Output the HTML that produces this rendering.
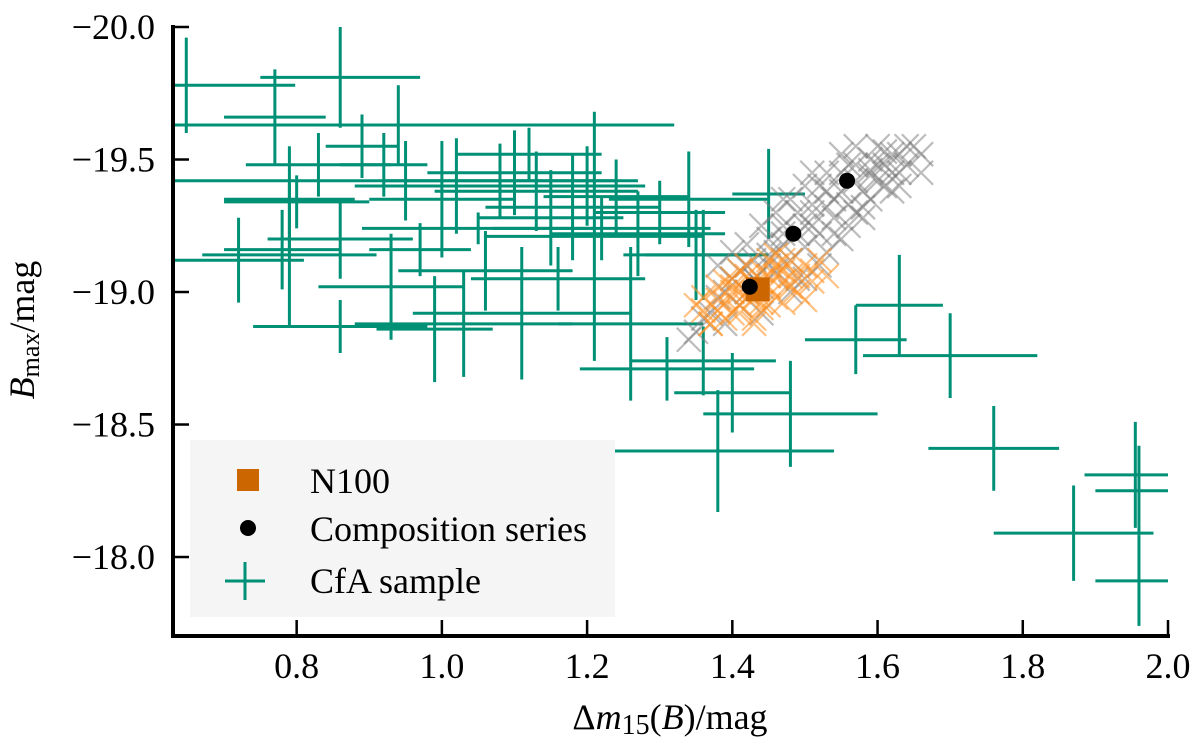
<!DOCTYPE html>
<html><head><meta charset="utf-8"><style>
body{margin:0;background:#fff}
svg{display:block}
text{font-family:"Liberation Serif",serif;fill:#000}
</style></head><body>
<svg id="chart" width="1200" height="749" viewBox="0 0 1200 749" xmlns="http://www.w3.org/2000/svg">
<g id="cfa"></g>
<g id="gray"></g>
<g id="orange"></g>
<g id="main"></g>
<g id="axes"></g>
<g id="legend">
  <rect x="190" y="440" width="425" height="177" fill="#f5f5f5"/>
  <rect x="237" y="469" width="22" height="22" fill="#cc6600"/>
  <text x="310" y="493" font-size="36">N100</text>
  <circle cx="248" cy="528" r="8" fill="#000"/>
  <text x="310" y="541" font-size="36">Composition series</text>
  <path d="M225 581H265M245 562V600" stroke="#009076" stroke-width="3"/>
  <text x="310" y="593" font-size="36">CfA sample</text>
</g>
<text x="670" y="729" font-size="36" text-anchor="middle">Δ<tspan font-style="italic">m</tspan><tspan font-size="28" dy="5">15</tspan><tspan dy="-5">(</tspan><tspan font-style="italic">B</tspan>)/mag</text>
<text transform="translate(34,330) rotate(-90)" font-size="36" text-anchor="middle"><tspan font-style="italic">B</tspan><tspan font-size="26" dy="5">max</tspan><tspan dy="-5">/mag</tspan></text>
</svg>
<script>
const cfaX = [0.648,0.77,0.86,0.83,0.89,0.92,0.94,0.95,0.80,0.79,0.86,0.79,0.97,1.05,1.00,1.02,1.08,1.10,1.13,1.15,1.18,1.20,1.22,1.24,1.27,1.30,1.34,1.35,1.45,1.21,1.26,1.11,1.03,0.99,0.86,0.78,1.36,1.31,1.40,1.36,1.48,1.38,1.63,1.57,1.70,1.76,1.955,1.96,1.87,1.96,1.06,1.16,0.93,0.72,1.12];
const cfaY = [-19.78,-19.66,-19.81,-19.48,-19.55,-19.48,-19.63,-19.42,-19.34,-19.14,-19.20,-19.35,-19.16,-19.24,-19.35,-19.40,-19.42,-19.45,-19.38,-19.28,-19.32,-19.40,-19.24,-19.36,-19.22,-19.30,-19.35,-19.14,-19.37,-19.21,-18.88,-18.92,-18.88,-18.86,-18.87,-19.16,-19.14,-18.71,-18.62,-18.74,-18.54,-18.40,-18.95,-18.82,-18.76,-18.41,-18.31,-18.25,-18.09,-17.91,-19.08,-19.05,-19.02,-19.12,-19.52];
const cfaXerr = [0.15,0.07,0.11,0.10,0.05,0.06,0.38,0.32,0.10,0.12,0.10,0.09,0.07,0.16,0.10,0.14,0.16,0.12,0.14,0.10,0.12,0.08,0.15,0.10,0.12,0.09,0.11,0.10,0.05,0.15,0.10,0.15,0.15,0.08,0.12,0.08,0.08,0.12,0.08,0.10,0.12,0.16,0.06,0.07,0.12,0.09,0.07,0.06,0.11,0.06,0.12,0.12,0.10,0.09,0.10];
const cfaYerr = [0.18,0.18,0.19,0.12,0.12,0.12,0.15,0.15,0.10,0.27,0.15,0.20,0.10,0.06,0.22,0.18,0.14,0.16,0.15,0.18,0.20,0.15,0.12,0.14,0.16,0.12,0.18,0.17,0.17,0.47,0.29,0.25,0.20,0.20,0.10,0.15,0.17,0.12,0.15,0.13,0.20,0.23,0.19,0.13,0.16,0.16,0.20,0.17,0.18,0.17,0.15,0.12,0.20,0.16,0.10];
const grayX = [1.36,1.38,1.40,1.41,1.43,1.44,1.45,1.46,1.47,1.48,1.49,1.50,1.51,1.52,1.53,1.54,1.55,1.56,1.57,1.58,1.59,1.60,1.61,1.62,1.63,1.64,1.42,1.46,1.50,1.53,1.57,1.60,1.48,1.52,1.55,1.44,1.39,1.58,1.62,1.51,1.47,1.54,1.43,1.59,1.65,
  1.35,1.37,1.39,1.41,1.43,1.45,1.47,1.49,1.51,1.53,1.55,1.57,1.59,1.61,1.63,1.40,1.44,1.48,1.52,1.56,1.60,1.64,1.42,1.46,1.50,1.54,1.58,1.62,1.66,1.45,1.49,1.53,1.57,1.61,1.38,1.42,1.47,1.51,1.55,1.59,1.63,1.66,1.34,1.50,1.56];
const grayY = [-18.90,-18.98,-19.05,-18.95,-19.12,-19.02,-19.20,-19.08,-19.25,-19.12,-19.30,-19.17,-19.33,-19.22,-19.38,-19.28,-19.45,-19.33,-19.48,-19.38,-19.50,-19.42,-19.53,-19.45,-19.52,-19.48,-19.18,-19.30,-19.40,-19.45,-19.55,-19.55,-19.00,-19.10,-19.20,-18.92,-18.88,-19.28,-19.38,-19.25,-19.18,-19.35,-19.05,-19.44,-19.55,
  -18.85,-18.92,-19.00,-19.08,-19.05,-19.14,-19.22,-19.22,-19.30,-19.32,-19.38,-19.42,-19.46,-19.48,-19.45,-19.15,-19.25,-19.35,-19.40,-19.48,-19.48,-19.55,-19.10,-19.15,-19.25,-19.22,-19.32,-19.52,-19.52,-19.10,-19.05,-19.15,-19.30,-19.40,-19.10,-19.00,-19.35,-19.45,-19.52,-19.35,-19.40,-19.45,-18.82,-19.05,-19.25];
const orangeX = [1.36,1.38,1.39,1.40,1.41,1.42,1.43,1.44,1.45,1.46,1.47,1.48,1.49,1.50,1.38,1.40,1.42,1.44,1.46,1.48,1.41,1.43,1.45,1.47,1.37,1.51,1.44,1.42,1.46,1.40,
  1.35,1.37,1.39,1.41,1.43,1.45,1.47,1.49,1.51,1.53,1.36,1.40,1.44,1.48,1.52,1.38,1.42,1.46,1.50,1.43,1.45,1.39,1.47,1.41];
const orangeY = [-18.93,-18.97,-18.90,-19.02,-18.95,-19.06,-18.98,-19.08,-19.02,-19.10,-19.04,-19.12,-19.06,-19.10,-19.02,-18.92,-19.00,-18.94,-18.98,-19.02,-19.08,-18.90,-19.12,-18.96,-18.88,-19.04,-19.04,-18.98,-19.06,-19.00,
  -18.95,-18.88,-18.96,-19.00,-19.03,-19.06,-19.08,-19.00,-19.08,-19.06,-18.98,-19.05,-18.96,-19.06,-19.12,-18.93,-19.10,-19.14,-18.97,-18.88,-18.95,-19.04,-19.12,-18.92];
const compX = [1.424,1.484,1.558];
const compY = [-19.02,-19.22,-19.42];
const n100X = [1.435];
const n100Y = [-19.01];
const xTicks = [0.8,1.0,1.2,1.4,1.6,1.8,2.0];
const xTickLabels = ["0.8","1.0","1.2","1.4","1.6","1.8","2.0"];
const yTicks = [-20.0,-19.5,-19.0,-18.5,-18.0];
const yTickLabels = ["\u221220.0","\u221219.5","\u221219.0","\u221218.5","\u221218.0"];

const NS="http://www.w3.org/2000/svg";
const X0=173,X1=1168,Y0=27,Y1=636;
const xMin=0.6297,xMax=2.0,yTop=-20.0,yBot=-17.702;
const sx=v=>X0+(v-xMin)/(xMax-xMin)*(X1-X0);
const sy=v=>Y0+(v-yTop)/(yBot-yTop)*(Y1-Y0);
function mk(tag,attrs,parent){const e=document.createElementNS(NS,tag);for(const k in attrs)e.setAttribute(k,attrs[k]);parent.appendChild(e);return e;}

const cfa=document.getElementById('cfa');
for(let i=0;i<cfaX.length;i++){
  const cx=sx(cfaX[i]),cy=sy(cfaY[i]);
  const l=Math.max(X0,sx(cfaX[i]-cfaXerr[i])),r=Math.min(X1,sx(cfaX[i]+cfaXerr[i]));
  const t=Math.max(Y0,sy(cfaY[i]-cfaYerr[i])),b=Math.min(Y1,sy(cfaY[i]+cfaYerr[i]));
  const p=mk('path',{d:`M${l} ${cy}H${r}M${cx} ${t}V${b}`,stroke:'#009076','stroke-width':3,fill:'none'},cfa);
  
  
}
function xs(g,xa,ya,color,name,op){
  for(let i=0;i<xa.length;i++){
    const cx=sx(xa[i]),cy=sy(ya[i]),s=12;
    const p=mk('path',{d:`M${cx-s} ${cy-s}L${cx+s} ${cy+s}M${cx-s} ${cy+s}L${cx+s} ${cy-s}`,stroke:color,'stroke-width':2.2,'stroke-opacity':op,fill:'none'},g);
    
    
  }
}
xs(document.getElementById('gray'),grayX,grayY,'#7a7a7a','composition-sample-marker',0.5);
xs(document.getElementById('orange'),orangeX,orangeY,'#ff9020','n100-sample-marker',0.55);
const main=document.getElementById('main');
for(let i=0;i<n100X.length;i++){
  const r=mk('rect',{x:sx(n100X[i])-12,y:sy(n100Y[i])-12,width:24,height:24,fill:'#cc6600'},main);
  
  
}
for(let i=0;i<compX.length;i++){
  const c=mk('circle',{cx:sx(compX[i]),cy:sy(compY[i]),r:8,fill:'#000'},main);
  
  
}
const ax=document.getElementById('axes');
const al=mk('path',{d:`M${X0} ${Y0-2}V${Y1}H${X1+2}`,stroke:'#000','stroke-width':4,fill:'none'},ax);


xTicks.forEach((v,i)=>{
  const x=sx(v);
  const t=mk('line',{x1:x,x2:x,y1:Y1,y2:Y1-16,stroke:'#000','stroke-width':2.5},ax);
  
  
  const l=mk('text',{x:x,y:678,'font-size':36,'text-anchor':'middle'},ax);
  l.textContent=xTickLabels[i];
  
  
});
yTicks.forEach((v,i)=>{
  const y=sy(v);
  const t=mk('line',{x1:X0,x2:X0+16,y1:y,y2:y,stroke:'#000','stroke-width':2.5},ax);
  
  
  const l=mk('text',{x:155,y:y+12,'font-size':36,'text-anchor':'end'},ax);
  l.textContent=yTickLabels[i];
  
  
});
</script>
</body></html>
